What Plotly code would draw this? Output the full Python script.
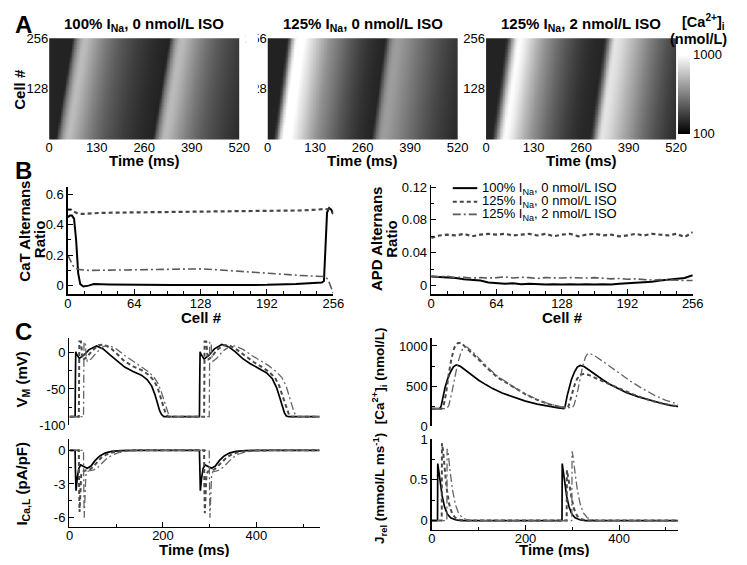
import numpy as np
import plotly.graph_objects as go

# ---------------- data ----------------
cond_names = ["100% I<sub>Na</sub>, 0 nmol/L ISO",
              "125% I<sub>Na</sub>, 0 nmol/L ISO",
              "125% I<sub>Na</sub>, 2 nmol/L ISO"]

# Panel C: membrane potential (mV)
vm_t_100 = [0, 12, 12.6, 13.4, 15, 21, 30, 42, 58, 72, 86, 102, 118, 136, 154, 166, 176, 183, 188, 193, 197, 202, 210,
            278, 278.6, 279.4, 281, 288, 298, 310, 326, 340, 355, 370, 386, 404, 422, 434, 443, 450, 455, 460, 464, 469, 535]
vm_v_100 = [-88, -88, -40, 1, -2, -8, -4, 4, 9, 5, -3, -12, -20, -26, -31, -37, -46, -58, -70, -80, -85, -88, -88,
            -88, -40, 1, -2, -9, -4, 5, 11, 8, 1, -8, -15, -21, -28, -36, -48, -62, -74, -83, -87, -88, -88]
vm_t_125 = [0, 20, 20.5, 21, 24.5, 26, 28, 36, 48, 62, 74, 90, 104, 118, 136, 154, 168, 180, 188, 194, 199, 204, 208, 212,
            288, 288.5, 289, 292.5, 294, 296, 304, 316, 330, 342, 358, 376, 394, 412, 428, 440, 449, 455, 461, 466, 470, 474, 535]
vm_v_125 = [-88, -88, -40, 15, 15, -3, -10, -7, 2, 10, 11, 5, -3, -12, -19, -24, -30, -38, -47, -58, -70, -80, -86, -88,
            -88, -40, 15, 15, -3, -10, -6, 4, 10, 10, 4, -5, -13, -20, -27, -35, -46, -58, -70, -80, -86, -88, -88]
vm_t_iso = [0, 30, 30.5, 31, 34, 35.5, 38, 46, 58, 72, 84, 100, 118, 136, 154, 168, 180, 190, 197, 203, 208, 212, 216,
            299, 299.5, 300, 303, 304.5, 307, 315, 328, 342, 355, 372, 390, 408, 426, 442, 454, 463, 469, 474, 479, 483, 487, 535]
vm_v_iso = [-88, -88, -40, 14, 14, -4, -12, -9, 0, 8, 10, 5, -4, -12, -20, -26, -33, -43, -55, -67, -78, -85, -88,
            -88, -40, 14, 14, -4, -12, -8, 2, 8, 9, 4, -4, -11, -18, -26, -34, -45, -56, -68, -79, -85, -88, -88]

# Panel C: L-type Ca current (pA/pF)
ical_t_100 = [0, 12, 12.5, 14, 16.5, 20, 24, 30, 38, 46, 55, 65, 76, 90, 110, 140, 200, 260,
              278, 278.5, 280, 282.5, 286, 290, 296, 304, 312, 321, 331, 342, 356, 376, 410, 470, 535]
ical_v_100 = [0, 0, -1.5, -3.6, -2.5, -1.6, -1.3, -1.45, -1.6, -1.4, -0.9, -0.5, -0.25, -0.1, -0.02, 0, 0.03, 0,
              0, -1.5, -3.6, -2.5, -1.6, -1.3, -1.45, -1.6, -1.4, -0.9, -0.5, -0.25, -0.1, -0.02, 0, 0.03, 0]
ical_t_125 = [0, 20, 20.5, 21.5, 25, 28, 34, 42, 50, 58, 68, 80, 95, 115, 145, 200,
              288, 288.5, 289.5, 293, 296, 302, 310, 318, 327, 337, 350, 366, 390, 430, 535]
ical_v_125 = [0, 0, -3, -5.5, -2.2, -1.9, -1.8, -1.75, -1.5, -1.1, -0.65, -0.35, -0.15, -0.04, 0, 0,
              0, -3, -5.6, -2.2, -1.9, -1.8, -1.7, -1.4, -1.0, -0.6, -0.3, -0.12, -0.03, 0, 0]
ical_t_iso = [0, 30, 30.5, 31.5, 35, 38, 44, 52, 60, 68, 78, 90, 105, 125, 155, 210,
              299, 299.5, 300.5, 304, 307, 313, 321, 329, 338, 348, 361, 377, 400, 440, 535]
ical_v_iso = [0, 0, -3, -6.0, -2.2, -1.9, -1.8, -1.75, -1.55, -1.2, -0.8, -0.45, -0.2, -0.06, 0, 0,
              0, -3, -6.0, -2.2, -1.9, -1.85, -1.75, -1.5, -1.1, -0.7, -0.35, -0.14, -0.04, 0, 0]

# Panel C: cytosolic Ca (nmol/L)
ca_t_100 = [0, 17, 20, 24, 28, 33, 40, 46, 52, 60, 70, 85, 100, 115, 130, 150, 175, 200, 225, 250, 270, 282,
            285, 289, 293, 298, 305, 311, 317, 325, 335, 350, 365, 380, 395, 415, 440, 465, 490, 510, 535]
ca_v_100 = [222, 222, 260, 380, 480, 580, 680, 740, 765, 750, 705, 640, 575, 520, 470, 415, 362, 315, 278, 247, 230, 222,
            260, 380, 480, 580, 680, 740, 758, 745, 705, 640, 580, 525, 478, 422, 370, 325, 288, 262, 240]
ca_t_125 = [0, 21, 25, 30, 36, 42, 48, 55, 62, 70, 80, 95, 105, 120, 140, 160, 180, 200, 225, 250, 275, 290,
            293, 298, 304, 310, 318, 326, 335, 350, 365, 380, 400, 425, 450, 475, 500, 520, 535]
ca_v_125 = [220, 220, 260, 400, 650, 850, 980, 1035, 1040, 1000, 940, 860, 800, 715, 610, 540, 470, 400, 330, 275, 240, 228,
            270, 380, 500, 590, 645, 655, 640, 600, 560, 520, 470, 410, 355, 310, 275, 252, 242]
ca_t_iso = [0, 32, 36, 42, 48, 55, 62, 68, 75, 85, 95, 105, 120, 140, 160, 180, 200, 225, 250, 275, 300,
            304, 310, 316, 322, 328, 333, 340, 350, 365, 380, 400, 425, 450, 475, 500, 520, 535]
ca_v_iso = [222, 222, 260, 400, 580, 780, 920, 990, 985, 940, 880, 815, 730, 625, 545, 470, 405, 335, 280, 245, 230,
            270, 400, 570, 740, 860, 905, 900, 870, 810, 745, 665, 560, 470, 390, 325, 280, 258]

# Panel C: SR release flux (mmol/L/ms)
jrel_t_100 = [0, 12, 12.5, 15, 18, 22, 27, 33, 40, 50, 62, 278, 278.5, 281, 284, 288, 293, 299, 306, 316, 328, 535]
jrel_v_100 = [0, 0, 0.70, 0.6, 0.45, 0.3, 0.17, 0.08, 0.035, 0.01, 0, 0, 0.70, 0.6, 0.45, 0.3, 0.17, 0.08, 0.035, 0.01, 0, 0]
jrel_t_125 = [0, 21, 21.5, 24, 28, 32, 37, 43, 50, 60, 72, 288, 288.5, 291, 295, 299, 304, 310, 318, 330, 535]
jrel_v_125 = [0, 0, 0.95, 0.85, 0.6, 0.38, 0.2, 0.09, 0.035, 0.01, 0, 0, 0.62, 0.55, 0.4, 0.26, 0.14, 0.06, 0.02, 0, 0]
jrel_t_iso = [0, 32, 32.5, 35, 39, 44, 50, 57, 65, 75, 87, 299, 299.5, 302, 306, 311, 317, 324, 332, 342, 354, 535]
jrel_v_iso = [0, 0, 0.88, 0.82, 0.6, 0.38, 0.2, 0.09, 0.035, 0.01, 0, 0, 0.85, 0.78, 0.58, 0.37, 0.2, 0.09, 0.035, 0.01, 0, 0]

# Panel A: activation lag (ms) of the Ca wave at cell 0 and cell 256, relative to the panel-C trace
lag_cells = [0, 256]
lag_100 = [0, 46]
lag_125 = [-7, 31]
lag_iso = [-18, 22]

# Panel B: CaT alternans ratio vs cell
catr_c_100 = [0, 2, 4, 6, 8, 10, 12, 15, 20, 25, 40, 64, 100, 128, 160, 192, 220, 240, 245, 247, 249, 250, 252, 254, 256]
catr_v_100 = [0.45, 0.46, 0.46, 0.44, 0.3, 0.08, 0.01, -0.006, 0.0, 0.01, 0.008, 0.005, 0.004, 0.004, 0.004, 0.005,
              0.01, 0.015, 0.02, 0.03, 0.3, 0.48, 0.51, 0.5, 0.47]
catr_c_125 = [0, 3, 6, 10, 16, 24, 32, 48, 64, 80, 96, 112, 128, 144, 160, 176, 192, 208, 224, 240, 248, 252, 256]
catr_v_125 = [0.5, 0.5, 0.485, 0.472, 0.472, 0.476, 0.478, 0.48, 0.481, 0.483, 0.484, 0.485, 0.486, 0.487, 0.487,
              0.488, 0.488, 0.49, 0.494, 0.499, 0.504, 0.5, 0.475]
catr_c_iso = [0, 2, 5, 8, 12, 20, 40, 64, 96, 128, 140, 160, 192, 224, 240, 248, 251, 254, 256]
catr_v_iso = [0.2, 0.17, 0.13, 0.112, 0.105, 0.1, 0.102, 0.105, 0.108, 0.11, 0.106, 0.096, 0.08, 0.067, 0.062,
              0.06, 0.04, -0.02, -0.05]

# Panel B: APD alternans ratio vs cell (every 8 cells)
apdr_cells = list(range(0, 257, 8))
apdr_100 = [0.011, 0.0105, 0.0095, 0.009, 0.0075, 0.0065, 0.006, 0.0035, 0.0025, 0.002, 0.0025, 0.0015, 0.002,
            0.0015, 0.001, 0.0015, 0.001, 0.0015, 0.001, 0.0015, 0.001, 0.0015, 0.001, 0.002, 0.0025, 0.003, 0.0035,
            0.0045, 0.006, 0.007, 0.0075, 0.009, 0.0125]
apdr_125 = [0.058, 0.061, 0.062, 0.061, 0.063, 0.060, 0.062, 0.063, 0.062, 0.063, 0.061, 0.062, 0.063, 0.061,
            0.063, 0.060, 0.062, 0.063, 0.060, 0.062, 0.063, 0.061, 0.062, 0.060, 0.061, 0.063, 0.061, 0.063,
            0.062, 0.061, 0.063, 0.059, 0.065]
apdr_iso = [0.011, 0.0105, 0.011, 0.0095, 0.010, 0.009, 0.0095, 0.009, 0.0095, 0.0105, 0.009, 0.010, 0.0095,
            0.0085, 0.0095, 0.009, 0.009, 0.0095, 0.009, 0.009, 0.0095, 0.009, 0.008, 0.0085, 0.0075, 0.008, 0.007,
            0.0065, 0.007, 0.0065, 0.0065, 0.006, 0.006]

hm_tick_t = [0, 130, 260, 390, 520]
hm_tick_cell = [128, 256]
cell_ticks = [0, 64, 128, 192, 256]
time_ticks = [0, 200, 400]

# ---------------- figure ----------------
# The page keeps the browser's default 8 px body margin, so the figure is 16 px smaller
# than the window and reference pixel positions are converted with that margin.
PAGE_W, PAGE_H, PAD = 747, 565, 8
W, H = PAGE_W - 2 * PAD, PAGE_H - 2 * PAD
FONT = "Arial, 'Liberation Sans', Helvetica, sans-serif"


def fx(p):
    return (p - PAD) / W


def fy(p):
    return 1 - (p - PAD) / H


styles_b = [dict(color="black", width=2.0, dash="solid"),
            dict(color="#454545", width=2.2, dash="4px,3px"),
            dict(color="#5a5a5a", width=1.6, dash="8px,3px,2px,3px")]
styles_c = [dict(color="black", width=1.7, dash="solid"),
            dict(color="#4a4a4a", width=2.0, dash="4px,3px"),
            dict(color="#666666", width=1.3, dash="8px,3px,2px,3px")]

fig = go.Figure()

# heatmaps (panel A)
hm_cells = np.arange(0, 257, 4)
hm_times = np.arange(0, 521, 2)
for i, (ct, cv, lag) in enumerate([(ca_t_100, ca_v_100, lag_100),
                                   (ca_t_125, ca_v_125, lag_125),
                                   (ca_t_iso, ca_v_iso, lag_iso)]):
    shift = np.interp(hm_cells, lag_cells, lag)
    z = np.interp(hm_times[None, :] - shift[:, None], ct, cv)
    sfx = "" if i == 0 else str(i + 1)
    fig.add_trace(go.Heatmap(
        x=hm_times, y=hm_cells, z=np.round(z).tolist(), zmin=100, zmax=1000,
        colorscale=[[0, "#000000"], [1, "#ffffff"]], showscale=(i == 2),
        xaxis="x" + sfx, yaxis="y" + sfx, hoverinfo="skip",
        colorbar=dict(x=fx(688), xanchor="left", xpad=0, ypad=0, thickness=12,
                      lenmode="pixels", len=79, y=fy(89.5), yanchor="middle",
                      tickvals=[100, 1000], ticks="", outlinewidth=0,
                      tickfont=dict(family=FONT, size=13, color="black"))))

# panel B
for k, (c, v) in enumerate([(catr_c_100, catr_v_100), (catr_c_125, catr_v_125), (catr_c_iso, catr_v_iso)]):
    fig.add_trace(go.Scatter(x=c, y=v, mode="lines", line=styles_b[k], xaxis="x4", yaxis="y4",
                             showlegend=False, hoverinfo="skip"))
for k, v in enumerate([apdr_100, apdr_125, apdr_iso]):
    fig.add_trace(go.Scatter(x=apdr_cells, y=v, mode="lines", line=styles_b[k], xaxis="x5", yaxis="y5",
                             name=cond_names[k], showlegend=False, hoverinfo="skip"))

# panel C
groups = [("x6", "y6", [(vm_t_100, vm_v_100), (vm_t_125, vm_v_125), (vm_t_iso, vm_v_iso)]),
          ("x7", "y7", [(ical_t_100, ical_v_100), (ical_t_125, ical_v_125), (ical_t_iso, ical_v_iso)]),
          ("x8", "y8", [(ca_t_100, ca_v_100), (ca_t_125, ca_v_125), (ca_t_iso, ca_v_iso)]),
          ("x9", "y9", [(jrel_t_100, jrel_v_100), (jrel_t_125, jrel_v_125), (jrel_t_iso, jrel_v_iso)])]
for xa, ya, series in groups:
    for k, (t, v) in enumerate(series):
        fig.add_trace(go.Scatter(x=t, y=v, mode="lines", line=styles_c[k], xaxis=xa, yaxis=ya,
                                 showlegend=False, hoverinfo="skip"))

tickfont = dict(family=FONT, size=13, color="black")


def lin_axis(domain, rng, tickvals, ticktext=None, minor_dtick=None, anchor=None, visible=True, standoff=0):
    d = dict(domain=domain, range=rng, tickvals=tickvals, showgrid=False, zeroline=False,
             showline=True, linecolor="black", linewidth=1.5, ticks="inside", ticklen=5,
             tickwidth=1, tickcolor="black", tickfont=tickfont, anchor=anchor, visible=visible,
             fixedrange=True, ticklabelstandoff=standoff)
    if ticktext is not None:
        d["ticktext"] = ticktext
    if minor_dtick is not None:
        d["minor"] = dict(ticks="inside", ticklen=3, tickwidth=1, tickcolor="black",
                          dtick=minor_dtick, tick0=0, showgrid=False)
    return d


def hm_axis(domain, rng, tickvals, anchor, standoff=0):
    return dict(domain=domain, range=rng, tickvals=tickvals, showgrid=False, zeroline=False,
                showline=False, ticks="", tickfont=tickfont, anchor=anchor, fixedrange=True,
                ticklabelstandoff=standoff)


hm_x = [(46, 240), (269, 463), (492, 686)]
layout = dict(width=W, height=H, margin=dict(l=0, r=0, t=0, b=0),
              paper_bgcolor="white", plot_bgcolor="rgba(0,0,0,0)",
              font=dict(family=FONT, color="black"), hovermode=False, showlegend=False)
for i, (x0, x1) in enumerate(hm_x):
    sfx = "" if i == 0 else str(i + 1)
    layout["xaxis" + sfx] = hm_axis([fx(x0), fx(x1)], [0, 520], hm_tick_t, "y" + sfx, standoff=-2)
    layout["yaxis" + sfx] = hm_axis([fy(136), fy(32)], [0, 256], hm_tick_cell, "x" + sfx)

layout["xaxis4"] = lin_axis([fx(65), fx(336)], [0, 256], cell_ticks, minor_dtick=16, anchor="y4", standoff=-3)
layout["yaxis4"] = lin_axis([fy(295), fy(185)], [-0.056, 0.647], [0, 0.2, 0.4, 0.6],
                            ["0", "0.2", "0.4", "0.6"], minor_dtick=0.1, anchor="x4")
layout["xaxis5"] = lin_axis([fx(436), fx(703)], [0, 256], cell_ticks, minor_dtick=16, anchor="y5", standoff=-3)
layout["yaxis5"] = lin_axis([fy(295), fy(183)], [-0.0107, 0.1224], [0, 0.04, 0.08, 0.12],
                            ["0", "0.04", "0.08", "0.12"], minor_dtick=0.02, anchor="x5")

layout["xaxis6"] = lin_axis([fx(66.7), fx(322)], [0, 535], time_ticks, anchor="y6", visible=False)
layout["yaxis6"] = lin_axis([fy(430), fy(340)], [-100, 20], [-100, -50, 0], ["-100", "-50", "0"],
                            minor_dtick=25, anchor="x6")
layout["xaxis7"] = lin_axis([fx(66.7), fx(322)], [0, 535], time_ticks, minor_dtick=100, anchor="y7", standoff=-4)
layout["yaxis7"] = lin_axis([fy(534), fy(444)], [-6.8, 1], [-6, -3, 0], ["-6", "-3", "0"],
                            minor_dtick=1.5, anchor="x7")
layout["xaxis8"] = lin_axis([fx(436.7), fx(688)], [0, 526], time_ticks, anchor="y8", visible=False)
layout["yaxis8"] = lin_axis([fy(431), fy(340)], [0, 1100], [0, 500, 1000], minor_dtick=250, anchor="x8")
layout["xaxis9"] = lin_axis([fx(436.7), fx(688)], [0, 526], time_ticks, minor_dtick=100, anchor="y9", standoff=-4)
layout["yaxis9"] = lin_axis([fy(537), fy(444)], [-0.11, 1.0], [0, 0.5, 1], ["0", "0.5", "1"],
                            minor_dtick=0.25, anchor="x9")

fig.update_layout(**layout)


def ann(text, x, y, size=15, angle=0, bold=True, xanchor="center"):
    fig.add_annotation(text=("<b>%s</b>" % text) if bold else text, x=fx(x), y=fy(y),
                       xref="paper", yref="paper", showarrow=False, textangle=angle,
                       xanchor=xanchor, yanchor="middle", align="center",
                       font=dict(family=FONT, size=size, color="black"))


# panel letters
ann("A", 9, 18, size=24, xanchor="left")
ann("B", 9, 168, size=24, xanchor="left")
ann("C", 9, 333, size=24, xanchor="left")
# panel A titles
for (x0, x1), name in zip(hm_x, cond_names):
    ann(name, (x0 + x1) / 2, 18, size=15)
    ann("Time (ms)", (x0 + x1) / 2, 158, size=15)
ann("Cell #", 16, 84, angle=-90)
ann("[Ca<sup>2+</sup>]<sub>i</sub>", 714, 15, size=14.5)
ann("(nmol/L)", 709, 33, size=14.5)
# panel B titles
ann("CaT Alternans", 21, 230, angle=-90)
ann("Ratio", 36, 238, angle=-90)
ann("APD Alternans", 380, 238, angle=-90)
ann("Ratio", 396, 238, angle=-90)
ann("Cell #", 201, 319)
ann("Cell #", 570, 319)
# panel C titles
ann("V<sub>M</sub> (mV)", 19, 383, angle=-90)
ann("I<sub>Ca,L</sub> (pA/pF)", 19, 490, angle=-90)
ann("[Ca<sup>2+</sup>]<sub>i</sub> (nmol/L)", 383, 379, size=13.5, angle=-90)
ann("J<sub>rel</sub> (mmol/L ms<sup>-1</sup>)", 383, 495, size=13.5, angle=-90)
ann("Time (ms)", 194, 557)
ann("Time (ms)", 562, 557)

# legend of panel B (line samples + labels)
leg_rows = [186, 200, 213]
for k in range(3):
    fig.add_shape(type="line", xref="paper", yref="paper", x0=fx(458), x1=fx(483),
                  y0=fy(leg_rows[k]), y1=fy(leg_rows[k]), line=styles_b[k], layer="above")
    ann(cond_names[k], 486, leg_rows[k], size=13, bold=False, xanchor="left")

# white strip: second heatmap's tick labels are partly hidden behind the first panel, as in the original
fig.add_shape(type="rect", xref="paper", yref="paper", x0=fx(246.5), x1=fx(259), y0=fy(128), y1=fy(20),
              fillcolor="white", line=dict(width=0), layer="above")

fig.write_html("out.html", config={"displayModeBar": False, "staticPlot": True})
